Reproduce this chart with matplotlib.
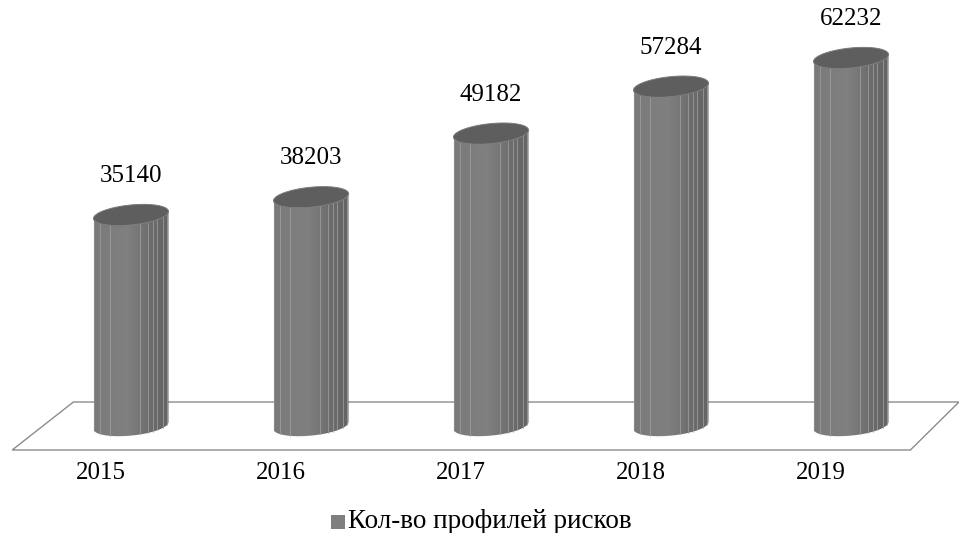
import numpy as np
import matplotlib
matplotlib.use("Agg")
import matplotlib.pyplot as plt
from matplotlib.patches import Polygon, Rectangle

years = ["2015", "2016", "2017", "2018", "2019"]
profiles = [35140, 38203, 49182, 57284, 62232]
legend_label = "Кол-во профилей рисков"

W, H, DPI = 959, 533, 100
fig = plt.figure(figsize=(W / DPI, H / DPI), dpi=DPI)
ax = fig.add_axes([0, 0, 1, 1])
ax.set_axis_off()

# pixel geometry of the category / value scales
x0_px, step_px = 131.0, 180.0
base_px, per_unit_px = 418.6, 0.005795
xlim = (-x0_px / step_px, (W - x0_px) / step_px)
ylim = ((base_px - H) / per_unit_px, base_px / per_unit_px)

def dx(px):
    return px / step_px

def dy(px):
    return px / per_unit_px

serif = ["Liberation Serif", "DejaVu Serif"]

# floor plane
n = len(years)
back_y, front_y = dy(base_px - 402), dy(base_px - 450)
floor = Polygon([(-0.32, back_y), (n - 1 + 0.6, back_y),
                 (n - 1 + 0.33, front_y), (-0.66, front_y)],
                closed=True, facecolor="white", edgecolor="#8c8c8c", lw=1.0, zorder=1)
ax.add_patch(floor)

rx = dx(37.5)
ry = dy(10)
lift = dy(3.5)          # right side of each ellipse sits a little higher
bottom = -dy(7)         # cylinders reach slightly below the zero plane
facet_lines = [-0.84, -0.57, 0.24, 0.46, 0.59, 0.70, 0.84, 0.95]

fs = np.linspace(-1, 1, 200)
grey = np.interp(fs, [-1.0, -0.6, -0.1, 0.2, 0.5, 1.0],
                 [0.475, 0.49, 0.50, 0.465, 0.425, 0.39])
gradient = np.repeat(grey[None, :, None], 3, axis=2)

def front_edge(f, level):
    return level - ry * np.sqrt(np.clip(1 - f ** 2, 0, 1)) + lift * f

for i, v in enumerate(profiles):
    cx = i
    xs = cx + rx * fs
    side_pts = list(zip(xs, front_edge(fs, bottom))) + \
        list(zip(xs[::-1], front_edge(fs[::-1], v)))
    side = Polygon(side_pts, closed=True, facecolor="none", edgecolor="none")
    ax.add_patch(side)
    im = ax.imshow(gradient, extent=(cx - rx, cx + rx, bottom - 2 * ry, v + 2 * ry),
                   aspect="auto", interpolation="bilinear", zorder=3, origin="lower")
    im.set_clip_path(side)
    for f in facet_lines:
        ax.plot([cx + rx * f] * 2, [front_edge(f, bottom), front_edge(f, v)],
                color="#a3a3a3", lw=0.5, zorder=4)
    ax.plot([cx - rx] * 2, [bottom - lift, v - lift], color="#8a8a8a", lw=0.8, zorder=4)
    # top cap
    tt = np.linspace(0, 2 * np.pi, 120)
    ex = cx + rx * np.cos(tt)
    ey = v + ry * np.sin(tt) + lift * np.cos(tt)
    ax.fill(ex, ey, facecolor="#5e5e5e", edgecolor="#7a7a7a", lw=0.7, zorder=5)
    ax.annotate(f"{v}", (cx, v), xytext=(0, 28), textcoords="offset points",
                ha="center", va="center", fontsize=18, family=serif, zorder=6)
    ax.text(cx - dx(30), dy(base_px - 473), years[i], ha="center", va="center",
            fontsize=18, family=serif)

# legend
ax.add_patch(Rectangle((dx(331 - x0_px), dy(base_px - 529)), dx(14), dy(14),
                       facecolor="#7f7f7f", edgecolor="none"))
ax.text(dx(348 - x0_px), dy(base_px - 521), legend_label, ha="left", va="center",
        fontsize=19.5, family=serif)

ax.set_xlim(*xlim)
ax.set_ylim(*ylim)
fig.savefig("out.png", dpi=DPI)
